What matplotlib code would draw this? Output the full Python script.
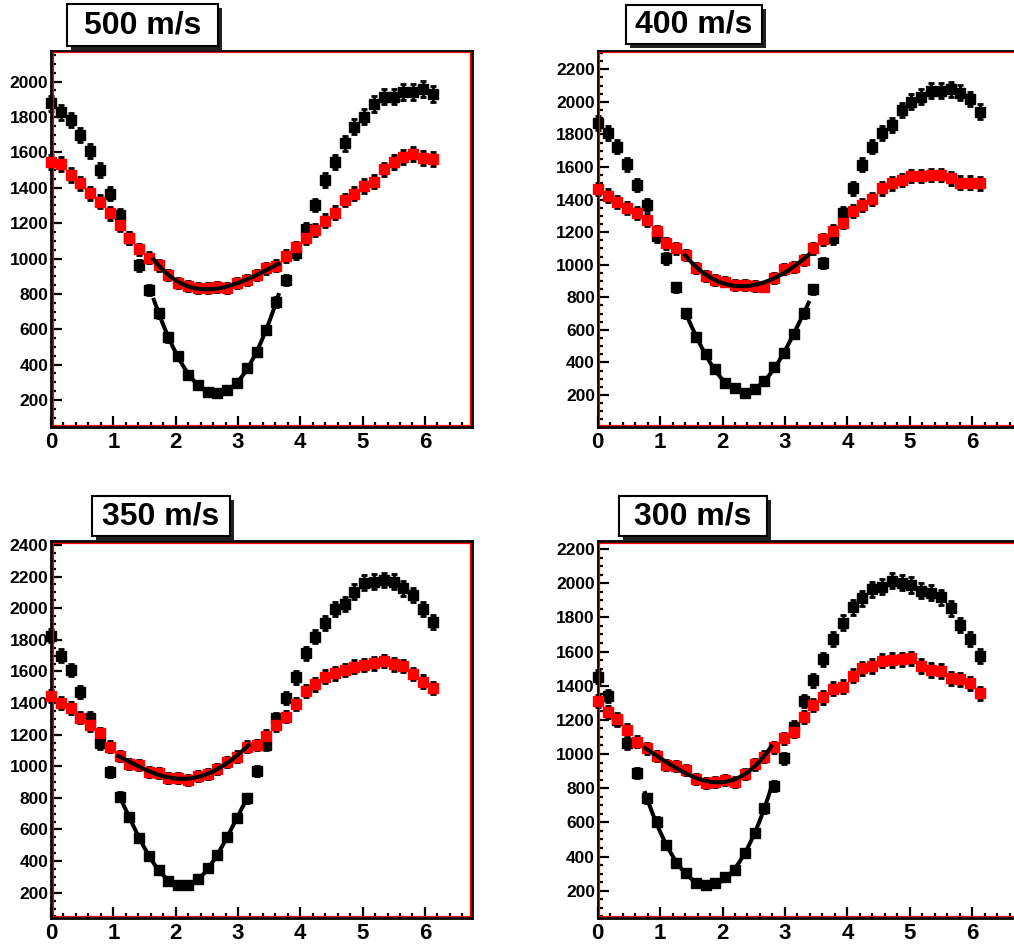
import numpy as np
import matplotlib
matplotlib.use('Agg')
import matplotlib.pyplot as plt
from matplotlib.patches import Rectangle
from matplotlib.ticker import MultipleLocator

plt.rcParams['font.family'] = ['Liberation Sans', 'DejaVu Sans']
plt.rcParams['font.weight'] = 'bold'

# bin centres (40 bins over one turn)
phase = np.linspace(0, 2 * np.pi, 40, endpoint=False)

# 500 m/s
black_500 = [1877, 1827, 1783, 1698, 1608, 1500, 1365, 1246, 1114, 963,
             822, 690, 554, 449, 341, 285, 247, 238, 256, 294,
             379, 473, 596, 756, 878, 1029, 1165, 1303, 1444, 1548,
             1651, 1746, 1802, 1874, 1915, 1915, 1943, 1943, 1957, 1930]
red_500 = [1548, 1533, 1472, 1425, 1369, 1321, 1255, 1189, 1114, 1052,
           1005, 963, 907, 860, 846, 831, 831, 837, 831, 860,
           878, 907, 944, 958, 1014, 1063, 1114, 1161, 1214, 1259,
           1331, 1365, 1410, 1434, 1504, 1544, 1576, 1591, 1566, 1561]

# 400 m/s
black_400 = [1872, 1807, 1725, 1617, 1490, 1367, 1175, 1039, 861, 702,
             554, 450, 358, 276, 241, 210, 235, 288, 374, 456,
             573, 702, 849, 1009, 1162, 1320, 1469, 1613, 1725, 1807,
             1858, 1950, 2001, 2032, 2069, 2069, 2077, 2057, 2018, 1940]
red_400 = [1465, 1424, 1387, 1346, 1316, 1275, 1205, 1131, 1101, 1060,
           978, 931, 906, 896, 876, 876, 869, 865, 917, 972,
           988, 1029, 1101, 1156, 1209, 1258, 1332, 1367, 1402, 1469,
           1500, 1520, 1545, 1545, 1551, 1551, 1531, 1504, 1504, 1500]

# 350 m/s
black_350 = [1826, 1698, 1609, 1472, 1308, 1145, 966, 808, 681, 548,
             432, 344, 276, 249, 249, 285, 354, 439, 555, 671,
             797, 970, 1135, 1303, 1430, 1563, 1715, 1820, 1904, 1993,
             2025, 2105, 2161, 2168, 2179, 2168, 2126, 2084, 1993, 1911]
red_350 = [1447, 1402, 1367, 1308, 1261, 1208, 1124, 1067, 1012, 1008,
           966, 955, 924, 924, 913, 938, 951, 981, 1029, 1061,
           1124, 1135, 1192, 1261, 1314, 1392, 1476, 1518, 1567, 1588,
           1609, 1630, 1641, 1651, 1666, 1645, 1634, 1584, 1535, 1493]

# 300 m/s
black_300 = [1453, 1340, 1199, 1063, 891, 741, 604, 467, 364, 302,
             247, 234, 243, 278, 321, 419, 540, 682, 813, 975,
             1160, 1312, 1433, 1554, 1671, 1769, 1859, 1911, 1964, 1980,
             2015, 2003, 1989, 1956, 1944, 1917, 1853, 1755, 1673, 1574]
red_300 = [1312, 1248, 1203, 1141, 1072, 1033, 988, 936, 930, 906,
           852, 832, 838, 848, 838, 883, 940, 984, 1039, 1092,
           1131, 1215, 1287, 1332, 1383, 1394, 1457, 1502, 1515, 1546,
           1550, 1554, 1560, 1515, 1492, 1486, 1443, 1437, 1414, 1355]

titles = ['500 m/s', '400 m/s', '350 m/s', '300 m/s']
fit_ranges = [(1.65, 3.65), (1.40, 3.38), (1.08, 3.17), (0.76, 2.78)]
ylims = [(49, 2175), (5, 2314), (42, 2425), (42, 2247)]

W, H = 1014, 947
fig = plt.figure(figsize=(W / 100, H / 100), dpi=100)

# panel frames in pixels: left, right, top, bottom
frames = [(51, 471.7, 50.7, 426.7), (597.7, 1019, 50.7, 426.7),
          (51, 471.7, 541, 917.7), (597.7, 1019, 541, 917.7)]
# title boxes in pixels: left, right, top, bottom
boxes = [(67, 218, 4, 46), (626, 762, 5, 44),
         (92, 230, 496, 536), (619, 767, 496, 536)]

series = [(black_500, red_500), (black_400, red_400),
          (black_350, red_350), (black_300, red_300)]


def unclip(container):
    for art in container.get_children():
        art.set_clip_on(False)


def draw_panel(ax, black, red, fit_range, ylim):
    black = np.array(black, dtype=float)
    red = np.array(red, dtype=float)
    eb = ax.errorbar(phase, black, yerr=np.sqrt(black), fmt='s', color='black',
                     ms=6.5, elinewidth=2, capsize=2.5, capthick=2, zorder=3)
    unclip(eb)
    eb = ax.errorbar(phase, red, yerr=np.sqrt(red), fmt='s', mfc='red', mec='red',
                     ecolor='black', ms=6.5, elinewidth=2, capsize=2.5, capthick=2,
                     zorder=4)
    unclip(eb)
    # fits over the dip region
    lo, hi = fit_range
    sel = (phase >= lo) & (phase <= hi)
    xx = np.linspace(lo, hi, 200)
    for y in (black, red):
        coef = np.polyfit(phase[sel], y[sel], 4)
        ax.plot(xx, np.polyval(coef, xx), color='black', lw=2.9, zorder=5)

    ax.set_xlim(0, 6.75)
    ax.set_ylim(*ylim)
    ax.xaxis.set_major_locator(MultipleLocator(1))
    ax.xaxis.set_minor_locator(MultipleLocator(0.2))
    ax.yaxis.set_major_locator(MultipleLocator(200))
    ax.yaxis.set_minor_locator(MultipleLocator(50))
    ax.tick_params(which='both', direction='in', top=False, right=False,
                   width=1.6, color='black')
    ax.tick_params(which='major', length=8)
    ax.tick_params(which='minor', length=3.5)
    ax.tick_params(axis='x', which='major', labelsize=16, pad=4)
    ax.tick_params(axis='y', which='major', labelsize=12.5, pad=2)
    ax.set_yticks([t for t in ax.get_yticks() if ylim[0] < t <= ylim[1] and t > 0])
    for s in ax.spines.values():
        s.set_linewidth(2)
        s.set_color('black')


for i in range(4):
    l, r, t, b = frames[i]
    ax = fig.add_axes([l / W, 1 - b / H, (r - l) / W, (b - t) / H])
    draw_panel(ax, series[i][0], series[i][1], fit_ranges[i], ylims[i])
    # thin red inner frame
    dx = 1.5 / (r - l)
    dy = 1.5 / (b - t)
    ax.add_patch(Rectangle((dx, dy), 1 - 2 * dx, 1 - 2 * dy, transform=ax.transAxes,
                           fill=False, edgecolor='red', lw=0.9, zorder=6,
                           clip_on=False))

    # title box with shadow
    bl, br, bt, bb = boxes[i]
    fig.add_artist(Rectangle(((bl + 4) / W, 1 - (bb + 4) / H), (br - bl) / W, (bb - bt) / H,
                             transform=fig.transFigure, facecolor='#222222',
                             edgecolor='none'))
    fig.add_artist(Rectangle((bl / W, 1 - bb / H), (br - bl) / W, (bb - bt) / H,
                             transform=fig.transFigure, facecolor='white',
                             edgecolor='black', lw=1.5))
    fig.text((bl + br) / 2 / W, 1 - (bt + bb) / 2 / H, titles[i],
             ha='center', va='center', fontsize=23, fontweight='bold')

fig.savefig('out.png', dpi=100)
